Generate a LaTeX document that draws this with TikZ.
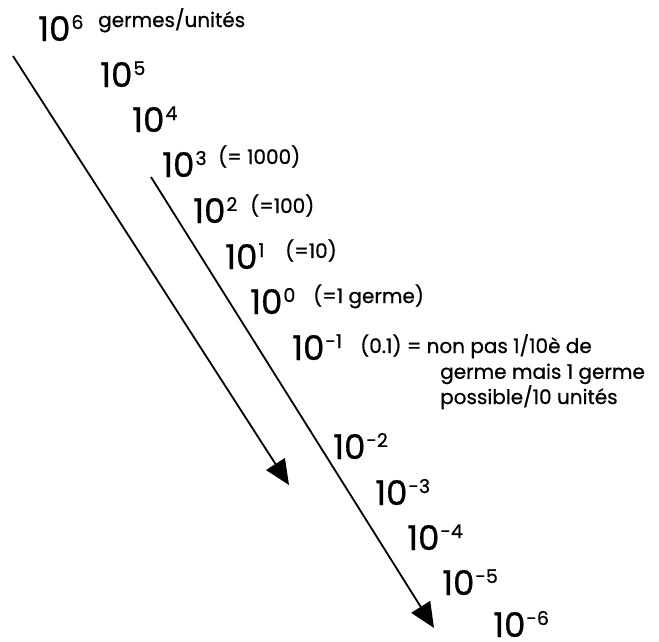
\documentclass[tikz,border=0pt]{standalone}
\usepackage{fontspec}
\setmainfont{Poppins}[FakeBold=0.7]
\usetikzlibrary{arrows.meta}
\newcommand{\dix}[1]{10\kern1pt\raisebox{12pt}{\fontsize{19}{19}\selectfont #1}}

\begin{document}
\begin{tikzpicture}[x=1pt,y=-1pt,
  pw/.style={anchor=base west,inner sep=0pt,font=\fontsize{34}{34}\selectfont},
  nt/.style={anchor=base west,inner sep=0pt,font=\fontsize{20}{20}\selectfont},
  fl/.style={-{Triangle[length=25pt,width=22pt]},line width=1.8pt}]
\useasboundingbox (0,0) rectangle (659,641);
% ---- powers of ten
\node[pw] (p6) at (38,41)   {\dix{6}};
\node[pw] (p5) at (100,87)  {\dix{5}};
\node[pw] (p4) at (132,132) {\dix{4}};
\node[pw] (p3) at (162,177) {\dix{3}};
\node[pw] (p2) at (193,223) {\dix{2}};
\node[pw] (p1) at (225,269) {\dix{1}};
\node[pw] (p0) at (250,314) {\dix{0}};
\node[pw] (m1) at (292,360) {\dix{-1}};
\node[pw] (m2) at (333,459) {\dix{-2}};
\node[pw] (m3) at (375,505) {\dix{-3}};
\node[pw] (m4) at (407,550) {\dix{-4}};
\node[pw] (m5) at (442,595) {\dix{-5}};
\node[pw] (m6) at (493,637) {\dix{-6}};
% ---- notes
\node[nt] (n6) at (98,27)   {germes/unités};
\node[nt] (n3) at (218,164) {(= 1000)};
\node[nt] (n2) at (250,213) {(=100)};
\node[nt] (n1) at (285,258) {(=10)};
\node[nt] (n0) at (313,303) {(=1 germe)};
\node[nt] (nm1) at (360,353) {(0.1) = non pas 1/10è de};
\node[nt,align=left] (nm1b) at (440,404) {germe mais 1 germe\\possible/10 unités};
% ---- arrows
\coordinate (a1s) at (13,56);
\coordinate (a1e) at (289,485);
\coordinate (a2s) at (151,177);
\coordinate (a2e) at (434,628);
\draw[fl] (a1s) -- (a1e);
\draw[fl] (a2s) -- (a2e);
\end{tikzpicture}
\end{document}
